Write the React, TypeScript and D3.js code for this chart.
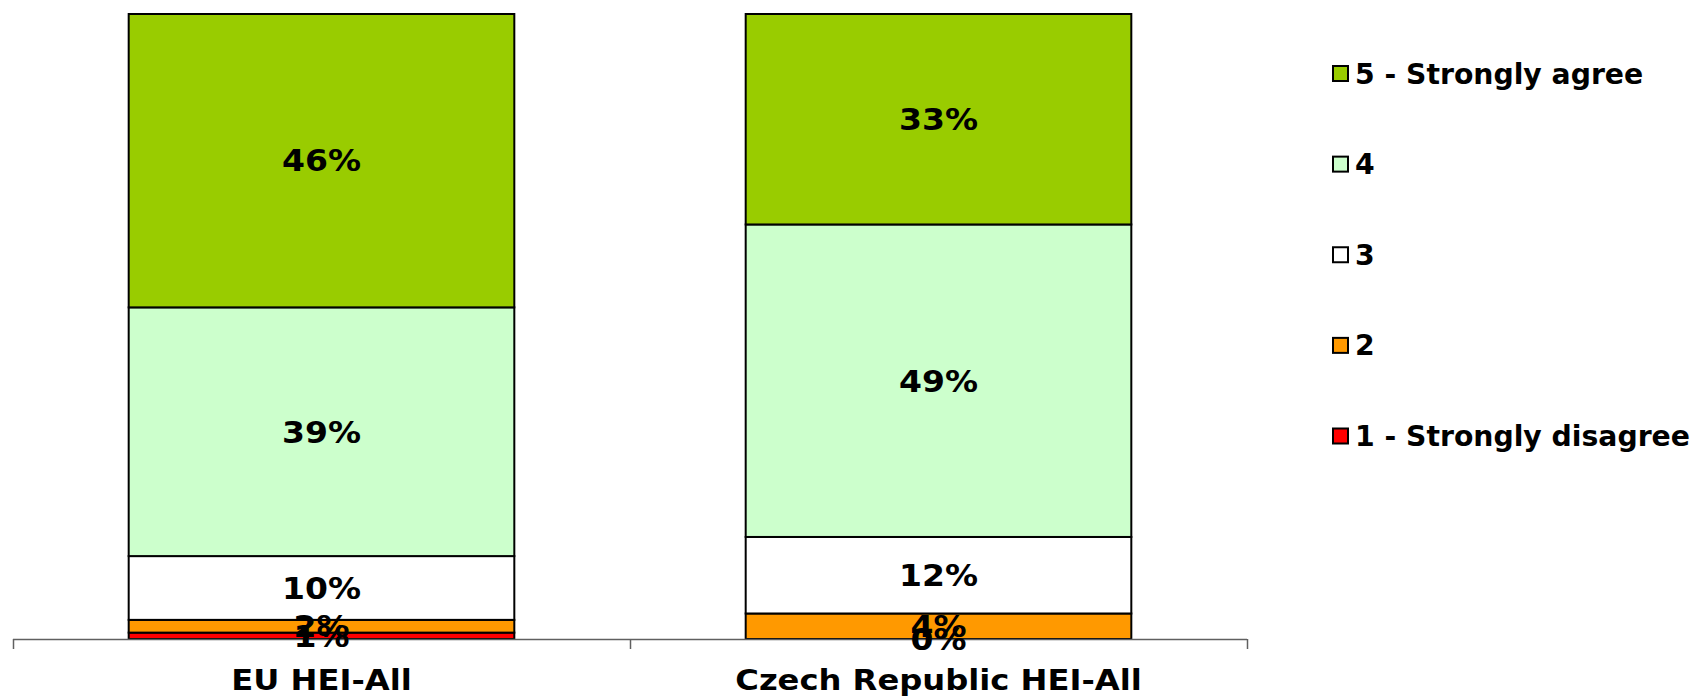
import * as React from 'react';
import * as d3 from 'd3';

const categories = ['EU HEI-All', 'Czech Republic HEI-All'];
const seriesNames = ['1 - Strongly disagree', '2', '3', '4', '5 - Strongly agree'];
const seriesColors = ['#FF0000', '#FF9900', '#FFFFFF', '#CCFFCC', '#99CC00'];
// percentages per answer, one array per category (bottom to top)
const euValues = [1, 2, 10, 39, 46];
const czValues = [0, 4, 12, 49, 33];

const W = 1696;
const H = 697;
const font = 'Verdana, "DejaVu Sans", sans-serif';

const App: React.FC = () => {
    const rows = categories.map((c, i) => {
        const vals = i === 0 ? euValues : czValues;
        const row: any = { cat: c };
        seriesNames.forEach((s, j) => { row[s] = vals[j]; });
        return row;
    });

    // 100% stacked like the original
    const stacked = d3.stack<any>().keys(seriesNames).offset(d3.stackOffsetExpand)(rows);

    const x = d3.scaleBand().domain(categories).range([13, 1247]).paddingInner(0.375).paddingOuter(0.1875);
    const y = d3.scaleLinear().domain([0, 1]).range([639, 14]);
    const outer = d3.scaleBand().domain(categories).range([13, 1247]);

    const legendY = d3.scalePoint().domain([...seriesNames].reverse()).range([73.5, 436]);

    return (
        <svg width={W} height={H} style={{ position: 'absolute', left: 0, top: 0, background: '#fff' }}>
            {/* bars */}
            {stacked.map((layer, j) => (
                <g key={layer.key}>
                    {layer.map((d, i) => (
                        <rect key={i}
                            x={x(categories[i])}
                            y={y(d[1])}
                            width={x.bandwidth()}
                            height={Math.max(0, y(d[0]) - y(d[1]))}
                            fill={seriesColors[j]}
                            stroke='#000'
                            strokeWidth={2}
                        />
                    ))}
                </g>
            ))}

            {/* axis */}
            <line x1={13} x2={1247} y1={639.5} y2={639.5} stroke='#606060' strokeWidth={1.5} />
            {[...categories.map(c => outer(c) as number), 1247].map((t, i) => (
                <line key={i} x1={t + 0.5} x2={t + 0.5} y1={639} y2={649} stroke='#606060' strokeWidth={1.5} />
            ))}
            {categories.map(c => (
                <text key={c}
                    transform={`translate(${(outer(c) as number) + outer.bandwidth() / 2},690) scale(1.11,1)`}
                    textAnchor='middle' fontFamily={font} fontWeight='bold' fontSize={29} fill='#000'>
                    {c}
                </text>
            ))}

            {/* data labels */}
            {stacked.map((layer, j) => (
                <g key={'l' + layer.key}>
                    {layer.map((d, i) => {
                        const v = (i === 0 ? euValues : czValues)[j];
                        const cx = (x(categories[i]) as number) + x.bandwidth() / 2;
                        const cy = (y(d[0]) + y(d[1])) / 2;
                        return (
                            <text key={i}
                                transform={`translate(${cx},${cy}) scale(1.1,1)`}
                                dy='0.36em'
                                textAnchor='middle' fontFamily={font} fontWeight='bold' fontSize={30} fill='#000'>
                                {v + '%'}
                            </text>
                        );
                    })}
                </g>
            ))}

            {/* legend */}
            {seriesNames.map((s, j) => {
                const ly = legendY(s) as number;
                return (
                    <g key={'lg' + s}>
                        <rect x={1333} y={ly - 7.5} width={15} height={15} fill={seriesColors[j]} stroke='#000' strokeWidth={2} />
                        <text transform={`translate(1355,${ly}) scale(1.01,1)`} dy='0.36em'
                            fontFamily={font} fontWeight='bold' fontSize={28} fill='#000'>
                            {s}
                        </text>
                    </g>
                );
            })}
        </svg>
    );
};

export default App;
